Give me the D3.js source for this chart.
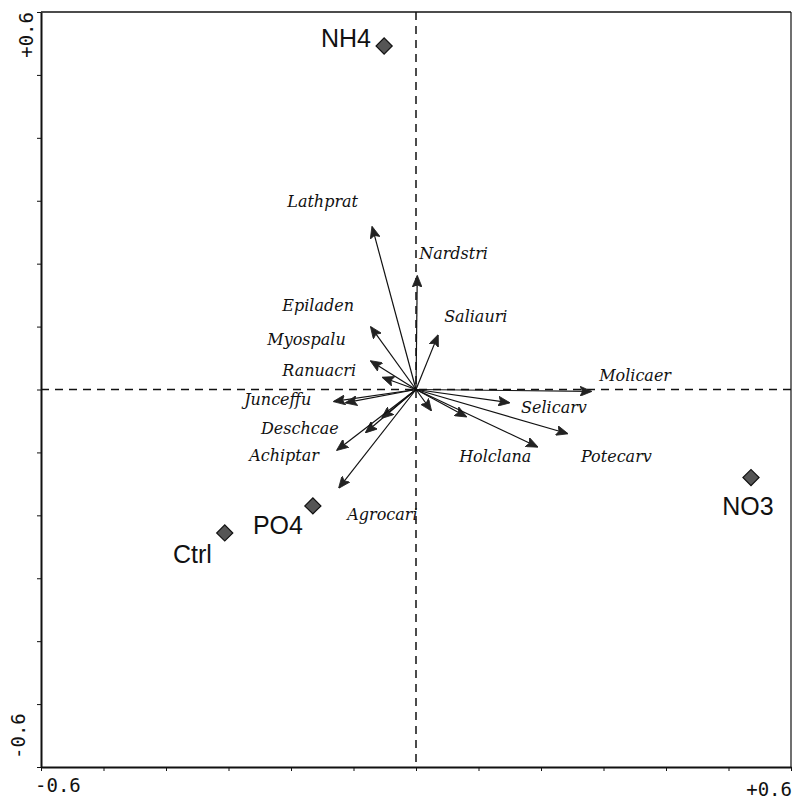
<!DOCTYPE html>
<html>
<head>
<meta charset="utf-8">
<script src="https://cdn.jsdelivr.net/npm/d3@7"></script>
<style>
  body { margin: 0; background: #fff; }
  .species { font-family: "DejaVu Serif", serif; font-style: italic; font-size: 16px; fill: #111; }
  .treat { font-family: "Liberation Sans", Arial, sans-serif; font-size: 25px; fill: #111; }
  .axlab { font-family: "DejaVu Sans Mono", monospace; font-size: 19px; fill: #111; }
</style>
</head>
<body>
<div id="chart"></div>
<script>
// species arrows (axis 1, axis 2)
var speciesNames = ['Lathprat', 'Nardstri', 'Epiladen', 'Saliauri', 'Myospalu', 'Ranuacri',
    'Junceffu', '', 'Deschcae', '', 'Achiptar', 'Agrocari', '', '', 'Selicarv',
    'Holclana', 'Potecarv', 'Molicaer'];
var speciesX = [-0.070, 0.002, -0.072, 0.035, -0.072, -0.053,
    -0.131, -0.112, -0.080, -0.054, -0.126, -0.123, 0.024, 0.080, 0.149,
    0.194, 0.242, 0.280];
var speciesY = [0.258, 0.180, 0.099, 0.086, 0.045, 0.019,
    -0.019, -0.021, -0.068, -0.045, -0.096, -0.156, -0.033, -0.043, -0.021,
    -0.091, -0.070, -0.003];
// where each species name sits (start, baseline)
var speciesLabelX = [-0.206, 0.005, -0.214, 0.045, -0.238, -0.214,
    -0.275, null, -0.248, null, -0.267, -0.110, null, null, 0.168,
    0.069, 0.264, 0.293];
var speciesLabelY = [0.290, 0.207, 0.124, 0.108, 0.070, 0.022,
    -0.024, null, -0.070, null, -0.113, -0.207, null, null, -0.037,
    -0.116, -0.115, 0.013];

// treatments (diamonds)
var treatNames = ['NH4', 'Ctrl', 'PO4', 'NO3'];
var treatX = [-0.051, -0.306, -0.165, 0.536];
var treatY = [0.546, -0.228, -0.185, -0.140];
var treatLabelX = [-0.152, -0.389, -0.261, 0.490];
var treatLabelY = [0.545, -0.275, -0.229, -0.199];

var tickValues = [-0.6, -0.5, -0.4, -0.3, -0.2, -0.1, 0, 0.1, 0.2, 0.3, 0.4, 0.5, 0.6];
var axisMin = -0.6, axisMax = 0.6;

var margin = {top: 12, left: 41},
    width = 750,
    height = 755;

var x = d3.scaleLinear().domain([axisMin, axisMax]).range([0, width]);
var y = d3.scaleLinear().domain([axisMin, axisMax]).range([height, 0]);

var svg = d3.select("#chart")
    .append("svg")
    .attr("width", 793)
    .attr("height", 800);

svg.append("defs").append("marker")
    .attr("id", "head")
    .attr("markerUnits", "userSpaceOnUse")
    .attr("viewBox", "0 -5 12 10")
    .attr("refX", 11)
    .attr("refY", 0)
    .attr("markerWidth", 12)
    .attr("markerHeight", 10)
    .attr("orient", "auto")
    .append("path")
    .attr("d", "M0,-5L12,0L0,5L2.5,0Z")
    .attr("fill", "#222")
    .attr("stroke", "#222")
    .attr("stroke-width", 0.8);

var g = svg.append("g")
    .attr("transform", "translate(" + margin.left + "," + margin.top + ")");

// frame: top + right
g.append("line").attr("x1", 0).attr("x2", width).attr("y1", 0).attr("y2", 0)
    .attr("stroke", "#111").attr("stroke-width", 1.5);
g.append("line").attr("x1", width).attr("x2", width).attr("y1", 0).attr("y2", height)
    .attr("stroke", "#111").attr("stroke-width", 1.2);

// axis-x
var ax = g.append("g")
    .attr("transform", "translate(0," + height + ")")
    .call(d3.axisBottom(x).tickValues(tickValues).tickSize(4).tickSizeOuter(0).tickFormat(""));
// axis-y
var ay = g.append("g")
    .call(d3.axisLeft(y).tickValues(tickValues).tickSize(4).tickSizeOuter(0).tickFormat(""));
[ax, ay].forEach(function(a) {
    a.select(".domain").attr("stroke", "#111").attr("stroke-width", 2);
    a.selectAll(".tick line").attr("stroke", "#111").attr("stroke-width", 1);
});

// axis end labels
g.append("text").attr("class", "axlab").attr("x", x(axisMin) - 6).attr("y", height + 25).text("-0.6");
g.append("text").attr("class", "axlab").attr("x", x(axisMax) + 1).attr("y", height + 29)
    .attr("text-anchor", "end").text("+0.6");
g.append("text").attr("class", "axlab")
    .attr("transform", "translate(-8," + y(axisMax) + ") rotate(-90)")
    .attr("text-anchor", "end").text("+0.6");
g.append("text").attr("class", "axlab")
    .attr("transform", "translate(-16," + (y(axisMin) - 8) + ") rotate(-90)")
    .attr("text-anchor", "start").text("-0.6");

// zero lines
g.append("line").attr("x1", x(0)).attr("x2", x(0)).attr("y1", 0).attr("y2", height)
    .attr("stroke", "#111").attr("stroke-width", 1.5).attr("stroke-dasharray", "8,6");
g.append("line").attr("x1", 0).attr("x2", width).attr("y1", y(0)).attr("y2", y(0))
    .attr("stroke", "#111").attr("stroke-width", 1.5).attr("stroke-dasharray", "8,6");

// species arrows
var species = speciesNames.map(function(n, i) {
    return {name: n, x: speciesX[i], y: speciesY[i], lx: speciesLabelX[i], ly: speciesLabelY[i]};
});

g.selectAll(".arrow")
    .data(species)
    .enter().append("line")
    .attr("class", "arrow")
    .attr("x1", x(0))
    .attr("y1", y(0))
    .attr("x2", function(d) { return x(d.x); })
    .attr("y2", function(d) { return y(d.y); })
    .attr("stroke", "#111")
    .attr("stroke-width", 1.2)
    .attr("marker-end", "url(#head)");

g.selectAll(".species")
    .data(species.filter(function(d) { return d.name !== ''; }))
    .enter().append("text")
    .attr("class", "species")
    .attr("x", function(d) { return x(d.lx); })
    .attr("y", function(d) { return y(d.ly); })
    .text(function(d) { return d.name; });

// treatments
var treats = treatNames.map(function(n, i) {
    return {name: n, x: treatX[i], y: treatY[i], lx: treatLabelX[i], ly: treatLabelY[i]};
});

g.selectAll(".diamond")
    .data(treats)
    .enter().append("path")
    .attr("class", "diamond")
    .attr("d", d3.symbol(d3.symbolSquare, 130))
    .attr("transform", function(d) { return "translate(" + x(d.x) + "," + y(d.y) + ") rotate(45)"; })
    .attr("fill", "#555")
    .attr("stroke", "#111")
    .attr("stroke-width", 1.2);

g.selectAll(".treat")
    .data(treats)
    .enter().append("text")
    .attr("class", "treat")
    .attr("x", function(d) { return x(d.lx); })
    .attr("y", function(d) { return y(d.ly); })
    .text(function(d) { return d.name; });
</script>
</body>
</html>
